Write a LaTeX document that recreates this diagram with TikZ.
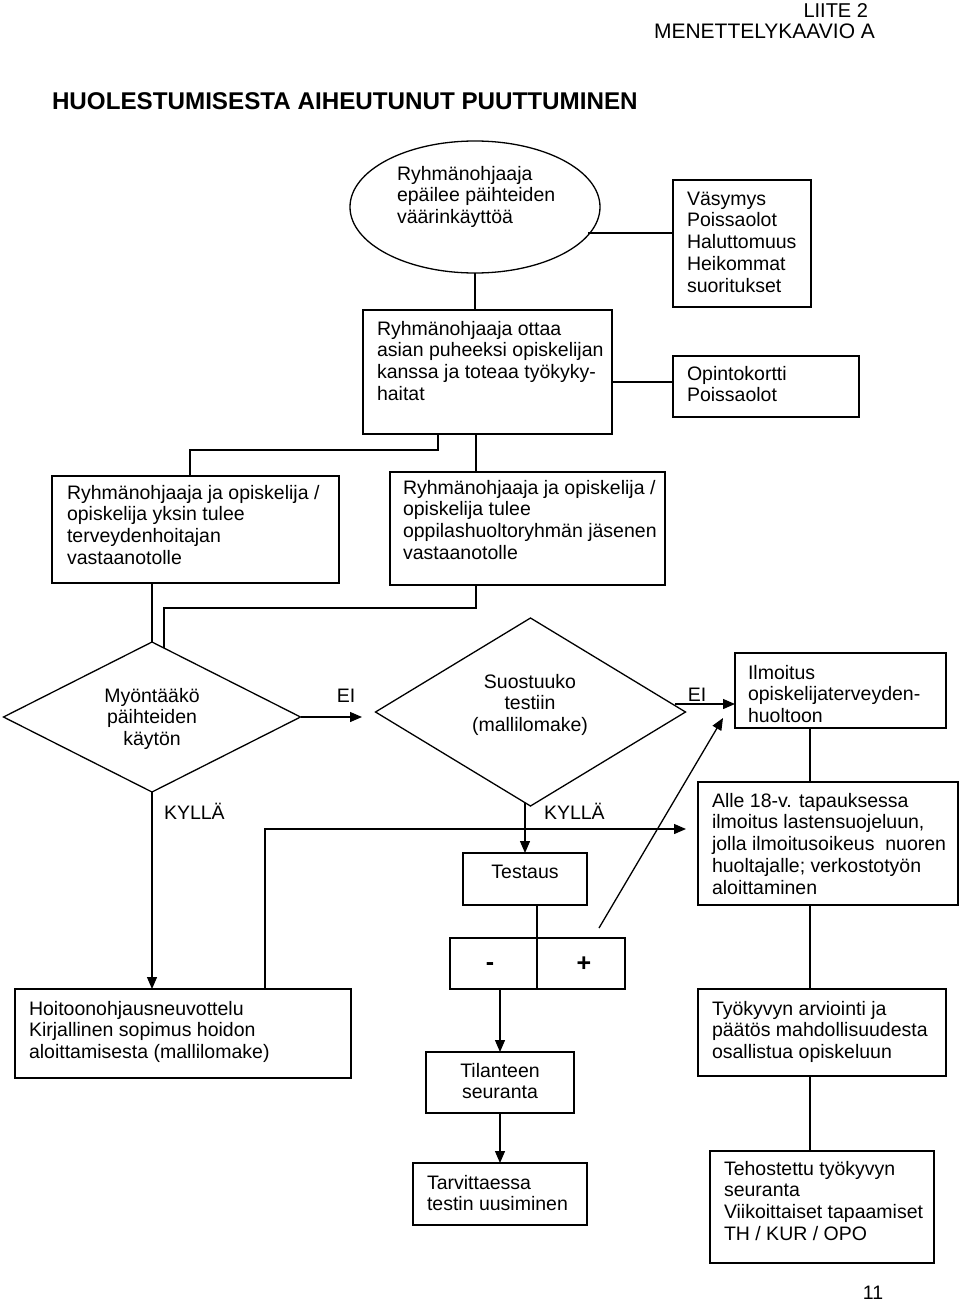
\documentclass[tikz,border=0pt]{standalone}
\usepackage{fontspec}
\setmainfont{Liberation Sans}
\usetikzlibrary{shapes.geometric,arrows.meta,calc}
\newcommand\tlft[1]{\begin{tabular}[t]{@{}l@{}}#1\end{tabular}}
\newcommand\tcnt[1]{\begin{tabular}[t]{@{}c@{}}#1\end{tabular}}
\begin{document}
\begin{tikzpicture}[x=1pt,y=-1pt,
  every node/.style={inner sep=0pt, outer sep=0pt},
  box/.style={draw, rectangle, anchor=north west, line width=1.3pt},
  txt/.style={anchor=base west, font=\fontsize{19.5}{21.8}\selectfont},
  ctxt/.style={anchor=base, font=\fontsize{19.5}{21.8}\selectfont},
  sign/.style={anchor=base, font=\fontsize{25}{26}\selectfont\bfseries},
  arr/.style={-{Triangle[length=12pt,width=10pt]}},
  line width=1.3pt]
\useasboundingbox (0,0) rectangle (960,1301);

% header
\node[anchor=base east, font=\fontsize{20}{22}\selectfont] (liite) at (868,17) {LIITE 2};
\node[anchor=base west, font=\fontsize{21}{22}\selectfont] (mene) at (654,38) {MENETTELYKAAVIO A};
\node[anchor=base west, font=\fontsize{24.2}{26}\selectfont\bfseries] (title) at (52,109) {HUOLESTUMISESTA AIHEUTUNUT PUUTTUMINEN};

% shapes
\node[draw, ellipse, minimum width=250, minimum height=132] (ell) at (475,207) {};
\node[box, minimum width=138, minimum height=127] (vas) at (673,180) {};
\node[box, minimum width=249, minimum height=124] (b2) at (363,310) {};
\node[box, minimum width=186, minimum height=61] (opk) at (673,356) {};
\node[box, minimum width=287, minimum height=107] (b3) at (52,476) {};
\node[box, minimum width=275, minimum height=113] (b4) at (390,472) {};
\node[draw, diamond, minimum width=297, minimum height=150] (d1) at (152,717) {};
\node[draw, diamond, minimum width=310, minimum height=188] (d2) at (530.5,712) {};
\node[box, minimum width=211, minimum height=75] (ilm) at (735,653) {};
\node[box, minimum width=260, minimum height=123] (alle) at (698,782) {};
\node[box, minimum width=124, minimum height=52] (test) at (463,853) {};
\node[box, minimum width=175, minimum height=51] (pm) at (450,938) {};
\node[box, minimum width=336, minimum height=89] (hoito) at (15,989) {};
\node[box, minimum width=248, minimum height=87] (tyo) at (698,989) {};
\node[box, minimum width=148, minimum height=61] (til) at (426,1052) {};
\node[box, minimum width=174, minimum height=62] (tarv) at (413,1163) {};
\node[box, minimum width=224, minimum height=112] (teho) at (710,1151) {};

% texts
\node[txt] (tell) at (397,180) {\tlft{Ryhmänohjaaja\\epäilee päihteiden\\väärinkäyttöä}};
\node[txt] (tvas) at (687,205) {\tlft{Väsymys\\Poissaolot\\Haluttomuus\\Heikommat\\suoritukset}};
\node[txt] (tb2) at (377,335) {\tlft{Ryhmänohjaaja ottaa\\asian puheeksi opiskelijan\\kanssa ja toteaa työkyky-\\haitat}};
\node[txt] (topk) at (687,380) {\tlft{Opintokortti\\Poissaolot}};
\node[txt] (tb3) at (67,499) {\tlft{Ryhmänohjaaja ja opiskelija /\\opiskelija yksin tulee\\terveydenhoitajan\\vastaanotolle}};
\node[txt] (tb4) at (403,494) {\tlft{Ryhmänohjaaja ja opiskelija /\\opiskelija tulee\\oppilashuoltoryhmän jäsenen\\vastaanotolle}};
\node[ctxt] (td1) at (152,702) {\tcnt{Myöntääkö\\päihteiden\\käytön}};
\node[ctxt] (ei1) at (346,702) {EI};
\node[ctxt] (td2) at (530,688) {\tcnt{Suostuuko\\testiin\\(mallilomake)}};
\node[ctxt] (ei2) at (697,701) {EI};
\node[txt] (tilm) at (748,679) {\tlft{Ilmoitus\\opiskelijaterveyden-\\huoltoon}};
\node[txt] (ky1) at (164,819) {KYLLÄ};
\node[txt] (ky2) at (544,819) {KYLLÄ};
\node[txt] (talle) at (712,807) {\tlft{Alle 18-v. tapauksessa\\ilmoitus lastensuojeluun,\\jolla ilmoitusoikeus\ \ nuoren\\huoltajalle; verkostotyön\\aloittaminen}};
\node[ctxt] (ttest) at (525,878) {Testaus};
\node[sign] (minus) at (490,970) {-};
\node[sign] (plus) at (584,971) {+};
\node[txt] (thoito) at (29,1015) {\tlft{Hoitoonohjausneuvottelu\\Kirjallinen sopimus hoidon\\aloittamisesta (mallilomake)}};
\node[txt] (ttyo) at (712,1015) {\tlft{Työkyvyn arviointi ja\\päätös mahdollisuudesta\\osallistua opiskeluun}};
\node[ctxt] (ttil) at (500,1077) {\tcnt{Tilanteen\\seuranta}};
\node[txt] (ttarv) at (427,1189) {\tlft{Tarvittaessa\\testin uusiminen}};
\node[txt] (tteho) at (724,1175) {\tlft{Tehostettu työkyvyn\\seuranta\\Viikoittaiset tapaamiset\\TH / KUR / OPO}};
\node[ctxt] (page) at (873,1299) {11};

% helper coordinates
\coordinate (e1) at (588,233);
\coordinate (y382) at (0,382);
\coordinate (k1) at (438,450);
\coordinate (k2) at (190,450);
\coordinate (k3) at (476,608);
\coordinate (k4) at (164,608);
\coordinate (k5) at (164,648);
\coordinate (t1) at (362,717);
\coordinate (s2) at (675,704);
\coordinate (x810) at (810,0);
\coordinate (x525) at (525,803);
\coordinate (x537) at (537,0);
\coordinate (h1) at (265,829);
\coordinate (h2) at (686,829);
\coordinate (g1) at (599,928);
\coordinate (g2) at (723,718);

% connectors
\draw (e1) -- (e1 -| vas.west);
\draw (ell.south) -- (ell.south |- b2.north);
\draw (b2.east |- y382) -- (opk.west |- y382);
\draw (k1 |- b2.south) -- (k1) -- (k2) -- (k2 |- b3.north);
\draw (k3 |- b2.south) -- (k3 |- b4.north);
\draw (k3 |- b4.south) -- (k3) -- (k4) -- (k5);
\draw (d1.north |- b3.south) -- (d1.north);
\draw[arr] (d1.east) -- (t1);
\draw[arr] (s2) -- (s2 -| ilm.west);
\draw (x810 |- ilm.south) -- (x810 |- alle.north);
\draw (x810 |- alle.south) -- (x810 |- tyo.north);
\draw (x810 |- tyo.south) -- (x810 |- teho.north);
\draw[arr] (d1.south) -- (d1.south |- hoito.north);
\draw[arr] (x525) -- (x525 |- test.north);
\draw (x537 |- test.south) -- (x537 |- pm.south);
\draw[arr] (h1 |- hoito.north) -- (h1) -- (h2);
\draw[arr] (g1) -- (g2);
\draw[arr] (til.north |- pm.south) -- (til.north);
\draw[arr] (til.south) -- (tarv.north);
\end{tikzpicture}
\end{document}
